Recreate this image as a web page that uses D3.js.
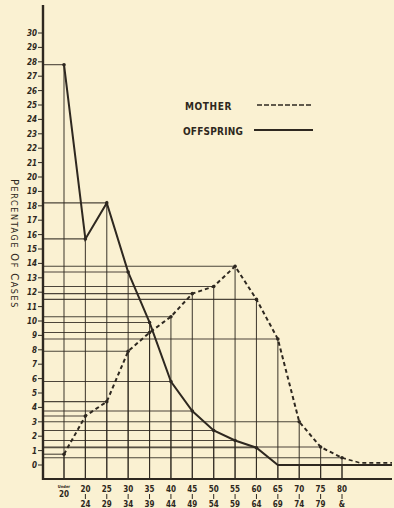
<!DOCTYPE html>
<html>
<head>
<meta charset="utf-8">
<script src="https://cdn.jsdelivr.net/npm/d3@7"></script>
<style>
  html, body { margin: 0; padding: 0; background: #faf1d2; }
  svg { display: block; }
  text { font-family: "DejaVu Sans Condensed", "DejaVu Sans", sans-serif; fill: #2e2820; }
</style>
</head>
<body>
<script>
// age groups (start / end rows of the x labels)
var ageStart = ["Under", "20", "25", "30", "35", "40", "45", "50", "55", "60", "65", "70", "75", "80"];
var ageEnd   = ["20", "24", "29", "34", "39", "44", "49", "54", "59", "64", "69", "74", "79", "&"];
var groups = ageStart.map(function(d, i) { return d + "-" + ageEnd[i]; });

// percentage of cases
var mother    = [0.75, 3.4, 4.4, 7.9, 9.2, 10.3, 11.9, 12.4, 13.8, 11.5, 8.75, 3.0, 1.25, 0.5];
var offspring = [27.8, 15.7, 18.2, 13.4, 9.9, 5.8, 3.75, 2.4, 1.7, 1.2, 0, 0, 0, 0];

var yTicks = d3.range(0, 31);

var W = 394, H = 508;
var ink = "#2e2820";

var svg = d3.select("body").append("svg")
    .attr("width", W)
    .attr("height", H);

var x = d3.scalePoint().domain(groups).range([64, 342]);
var y = d3.scaleLinear().domain([0, 30]).range([465, 33]);

var axisX = 43, baseY = 479, rightEdge = 392;

// drop lines from every point: across to the y axis, down to the base line
function drops(vals) {
  vals.forEach(function(v, i) {
    var px = x(groups[i]), py = y(v);
    if (v > 0) {
      svg.append("line")
        .attr("x1", axisX).attr("y1", py).attr("x2", px).attr("y2", py)
        .attr("stroke", ink).attr("stroke-width", 1.1).attr("opacity", 0.85);
    }
    svg.append("line")
      .attr("x1", px).attr("y1", py).attr("x2", px).attr("y2", baseY)
      .attr("stroke", ink).attr("stroke-width", 1.1).attr("opacity", 0.85);
  });
}
drops(offspring);
drops(mother);

var line = d3.line()
    .x(function(d, i) { return x(groups[i]); })
    .y(function(d) { return y(d); });

// offspring, solid
svg.append("path")
  .datum(offspring)
  .attr("d", line)
  .attr("fill", "none")
  .attr("stroke", ink)
  .attr("stroke-width", 2);

svg.append("line")
  .attr("x1", x(groups[groups.length - 1])).attr("y1", y(0))
  .attr("x2", rightEdge).attr("y2", y(0))
  .attr("stroke", ink).attr("stroke-width", 2);

// mother, dashed
svg.append("path")
  .datum(mother)
  .attr("d", line)
  .attr("fill", "none")
  .attr("stroke", ink)
  .attr("stroke-width", 2)
  .attr("stroke-dasharray", "4,3");

svg.append("path")
  .attr("d", d3.line()([
    [x(groups[groups.length - 1]), y(mother[mother.length - 1])],
    [x(groups[groups.length - 1]) + 18, y(0.15)],
    [rightEdge, y(0.15)]
  ]))
  .attr("fill", "none")
  .attr("stroke", ink)
  .attr("stroke-width", 1.6)
  .attr("stroke-dasharray", "4,3");

// points
svg.selectAll(".dot")
  .data(groups.map(function(g, i) { return [g, offspring[i]]; })
    .concat(groups.map(function(g, i) { return [g, mother[i]]; }))
    .filter(function(d) { return d[1] > 0; }))
  .enter().append("circle")
  .attr("class", "dot")
  .attr("cx", function(d) { return x(d[0]); })
  .attr("cy", function(d) { return y(d[1]); })
  .attr("r", 1.8)
  .attr("fill", ink);

// y axis
svg.append("line")
  .attr("x1", axisX).attr("y1", 5).attr("x2", axisX).attr("y2", baseY + 1)
  .attr("stroke", ink).attr("stroke-width", 2.4);

svg.selectAll(".ytick")
  .data(yTicks)
  .enter().append("line")
  .attr("x1", axisX - 5).attr("x2", axisX)
  .attr("y1", function(d) { return y(d); })
  .attr("y2", function(d) { return y(d); })
  .attr("stroke", ink).attr("stroke-width", 1);

svg.selectAll(".ylab")
  .data(yTicks)
  .enter().append("text")
  .attr("x", axisX - 6)
  .attr("y", function(d) { return y(d) + 3; })
  .attr("text-anchor", "end")
  .attr("font-size", "8px")
  .attr("font-weight", "bold")
  .attr("font-style", "italic")
  .text(function(d) { return d; });

// x axis
svg.append("line")
  .attr("x1", axisX).attr("y1", baseY).attr("x2", rightEdge).attr("y2", baseY)
  .attr("stroke", ink).attr("stroke-width", 2);

svg.selectAll(".xtop")
  .data(groups)
  .enter().append("text")
  .attr("x", function(d) { return x(d); })
  .attr("y", function(d, i) { return i == 0 ? 488 : 492; })
  .attr("text-anchor", "middle")
  .attr("font-size", function(d, i) { return i == 0 ? "4px" : "8px"; })
  .attr("font-weight", "bold")
  .text(function(d, i) { return ageStart[i]; });

svg.selectAll(".xbar")
  .data(groups.slice(1))
  .enter().append("line")
  .attr("x1", function(d) { return x(d); })
  .attr("x2", function(d) { return x(d); })
  .attr("y1", 494).attr("y2", 499)
  .attr("stroke", ink).attr("stroke-width", 1);

svg.selectAll(".xbot")
  .data(groups)
  .enter().append("text")
  .attr("x", function(d) { return x(d); })
  .attr("y", function(d, i) { return i == 0 ? 497 : 507; })
  .attr("text-anchor", "middle")
  .attr("font-size", "8px")
  .attr("font-weight", "bold")
  .text(function(d, i) { return ageEnd[i]; });

// axis title
svg.append("text")
  .attr("transform", "translate(11,244) rotate(90)")
  .attr("text-anchor", "middle")
  .attr("font-size", "9px")
  .attr("letter-spacing", "1.6px")
  .html('<tspan font-size="11px">P</tspan>ERCENTAGE <tspan font-size="11px">O</tspan>F <tspan font-size="11px">C</tspan>ASES');

// legend
svg.append("text")
  .attr("x", 185).attr("y", 110)
  .attr("font-size", "10px")
  .attr("font-weight", "bold")
  .attr("letter-spacing", "0.6px")
  .text("MOTHER");
svg.append("line")
  .attr("x1", 257).attr("y1", 105).attr("x2", 311).attr("y2", 105)
  .attr("stroke", ink).attr("stroke-width", 1.6).attr("stroke-dasharray", "5,2");

svg.append("text")
  .attr("x", 183).attr("y", 135)
  .attr("font-size", "10px")
  .attr("font-weight", "bold")
  .attr("letter-spacing", "0.2px")
  .text("OFFSPRING");
svg.append("line")
  .attr("x1", 254).attr("y1", 130).attr("x2", 313).attr("y2", 130)
  .attr("stroke", ink).attr("stroke-width", 1.8);
</script>
</body>
</html>
